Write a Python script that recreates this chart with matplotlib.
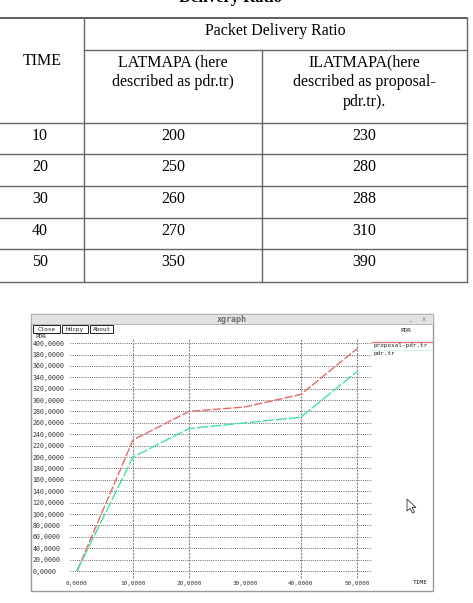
import matplotlib
matplotlib.use("Agg")
import matplotlib.pyplot as plt
from matplotlib.patches import Rectangle, Polygon

# table data
time = [10, 20, 30, 40, 50]
latmapa = [200, 250, 260, 270, 350]      # pdr.tr
ilatmapa = [230, 280, 288, 310, 390]     # proposal-pdr.tr

col_head = "Packet Delivery Ratio"
sub_heads = ["LATMAPA (here\ndescribed as pdr.tr)",
             "ILATMAPA(here\ndescribed as proposal-\npdr.tr)."]

# graph axes
y_ticks = list(range(0, 401, 20))
x_ticks = [0, 10, 20, 30, 40, 50]
vgrid_x = [10, 20, 40, 50]

W, H = 473, 603
fig = plt.figure(figsize=(W / 100, H / 100), dpi=100)
bg = fig.add_axes([0, 0, 1, 1])
bg.set_xlim(0, W)
bg.set_ylim(H, 0)
bg.axis("off")

serif = "Liberation Serif"
fs = 11.5

# title (cut off at the top, as in the source page)
bg.text(230, 2.5, "Delivery Ratio", ha="center", va="baseline", fontsize=12,
        fontweight="bold", family=serif)

# table grid
xl, xc1, xc2, xr = 0, 84, 262, 467
row_y = [123, 154, 186, 218, 249, 282]
lc = "#666666"
bg.plot([xl, xr], [18, 18], color="#333333", lw=1.1)
bg.plot([xc1, xr], [50, 50], color=lc, lw=1)
for y in row_y:
    bg.plot([xl, xr], [y, y], color=lc, lw=1)
bg.plot([xc1, xc1], [18, 282], color=lc, lw=1)
bg.plot([xc2, xc2], [50, 282], color=lc, lw=1)
bg.plot([xr, xr], [18, 282], color=lc, lw=1)

bg.text(42, 61, "TIME", ha="center", va="center", fontsize=fs, family=serif)
bg.text((xc1 + xr) / 2, 31, col_head, ha="center", va="center", fontsize=fs, family=serif)
bg.text((xc1 + xc2) / 2, 54, sub_heads[0], ha="center", va="top", fontsize=fs,
        family=serif, linespacing=1.35)
bg.text((xc2 + xr) / 2, 54, sub_heads[1], ha="center", va="top", fontsize=fs,
        family=serif, linespacing=1.35)
for i, t in enumerate(time):
    yc = row_y[i] + 13
    bg.text(40, yc, str(t), ha="center", va="center", fontsize=fs, family=serif)
    bg.text((xc1 + xc2) / 2, yc, str(latmapa[i]), ha="center", va="center",
            fontsize=fs, family=serif)
    bg.text((xc2 + xr) / 2, yc, str(ilatmapa[i]), ha="center", va="center",
            fontsize=fs, family=serif)

# xgraph window frame
wx0, wy0, wx1, wy1 = 31, 314, 433, 591
bg.add_patch(Rectangle((wx0, wy0), wx1 - wx0, wy1 - wy0, fill=False,
                       edgecolor="#9a9a9a", lw=1))
bg.add_patch(Rectangle((wx0, wy0), wx1 - wx0, 10, facecolor="#e2e2e2",
                       edgecolor="#b0b0b0", lw=0.6))
mono = "DejaVu Sans Mono"
bg.text((wx0 + wx1) / 2, wy0 + 5, "xgraph", ha="center", va="center",
        fontsize=6, family=mono, fontweight="bold", color="#707070")
bg.text(410, wy0 + 5, "_", ha="center", va="center", fontsize=5, color="#888888")
bg.text(424, wy0 + 5, "x", ha="center", va="center", fontsize=5, color="#888888")
for bx, bw, lab in [(33, 27, "Close"), (62, 26, "Hdcpy"), (90, 23, "About")]:
    bg.add_patch(Rectangle((bx, 325), bw, 8, fill=False, edgecolor="#222222", lw=0.7))
    bg.text(bx + bw / 2, 329.5, lab, ha="center", va="center", fontsize=4.3,
            family=mono, color="#222222")
bg.text(35, 336.5, "PDR", ha="left", va="center", fontsize=4.3, family=mono,
        color="#222222")
bg.text(420, 582, "TIME", ha="center", va="center", fontsize=4.5, family=mono,
        color="#222222")

# legend
bg.text(406, 331, "PDR", ha="center", va="center", fontsize=4.3, family=mono,
        color="#222222")
bg.plot([372, 432], [341.5, 341.5], color="#e87878", lw=1)
bg.text(373, 346, "proposal-pdr.tr", ha="left", va="center", fontsize=4.3,
        family=mono, color="#222222")
bg.plot([372, 432], [349.5, 349.5], color="#bff5e0", lw=0.6)
bg.text(373, 353, "pdr.tr", ha="left", va="center", fontsize=4.3, family=mono,
        color="#222222")

# mouse cursor
bg.add_patch(Polygon([(407, 499), (407, 511), (410, 508.5), (412.5, 513),
                      (414.5, 512), (412, 507.5), (416, 507.5)], closed=True,
                     facecolor="white", edgecolor="#333333", lw=0.6))

# graph
px0, px1, py_top, py_bot = 70, 372, 338, 575
ax = fig.add_axes([px0 / W, 1 - py_bot / H, (px1 - px0) / W, (py_bot - py_top) / H])
ax.set_facecolor("none")
ax.set_xlim(-1.25, 52.7)
ax.set_ylim(-7, 409)
for s in ax.spines.values():
    s.set_visible(False)

ax.set_yticks(y_ticks)
ax.set_yticklabels([f"{v},0000" for v in y_ticks])
ax.set_xticks(x_ticks)
ax.set_xticklabels([f"{v},0000" for v in x_ticks])
ax.tick_params(axis="both", length=0, labelcolor="#333333")
ax.tick_params(axis="y", pad=27, labelsize=4.8)
ax.tick_params(axis="x", pad=4, labelsize=4.3)
for lbl in ax.get_yticklabels() + ax.get_xticklabels():
    lbl.set_family(mono)
for lbl in ax.get_yticklabels():
    lbl.set_ha("left")

ax.yaxis.grid(True, linestyle=(0, (1, 1.6)), color="#333333", lw=0.6)
ax.vlines(vgrid_x, -12, 409, colors="#888888", linestyles=(0, (2, 1)), lw=0.8,
          clip_on=False)

ax.plot([0] + time, [0] + ilatmapa, color="#e46a6a", lw=1, dashes=(6, 1.5))
ax.plot([0] + time, [0] + latmapa, color="#45e0a8", lw=1, dashes=(8, 1.5))

fig.savefig("out.png", dpi=100)
